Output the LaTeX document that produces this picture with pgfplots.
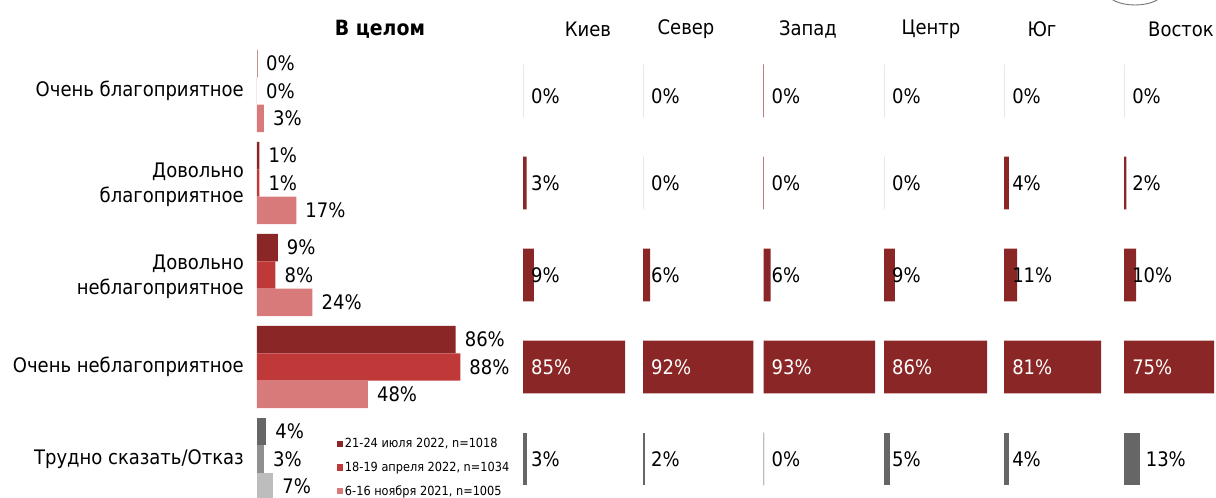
\documentclass[border=0pt]{standalone}
\usepackage{fontspec}
\setmainfont{DejaVuSansCondensed}[Extension=.ttf, BoldFont=DejaVuSansCondensed-Bold]
\usepackage{pgfplots}
\pgfplotsset{compat=1.18}
\definecolor{c1}{HTML}{8B2626}
\definecolor{c2}{HTML}{C03939}
\definecolor{c3}{HTML}{D97A7A}
\definecolor{g1}{HTML}{666666}
\definecolor{g2}{HTML}{8F8F8F}
\definecolor{g3}{HTML}{BDBDBD}
\newcommand\pct{\fontsize{20}{24}\selectfont}
\tikzset{catlab/.style={anchor=east, align=right, inner sep=0pt, xshift=-13pt, font=\fontsize{20}{25}\selectfont}}
\pgfplotsset{
  /pgf/number format/assume math mode=true,
  base/.style={scale only axis, xmin=0, xmax=100, ymin=-0.5, ymax=4.5, height=460pt,
    hide axis, clip=false, anchor=south west},
  rp/.style={base, width=120pt},
  lbl/.style={draw=none, mark=none, nodes near coords={\pgfplotspointmeta},
    point meta=explicit symbolic, nodes near coords align=horizontal,
    nodes near coords style={anchor=west, inner sep=0pt, font=\pct}},
}
% #1 x, #2 red bars, #3 gray bar, #4 black labels, #5 white labels
\newcommand{\panel}[5]{%
\begin{axis}[rp, at={(#1,-7pt)}]
\addplot[xbar, bar width=0.576, bar shift=0, fill=c1, draw=none] coordinates {#2};
\addplot[xbar, bar width=0.576, bar shift=0, fill=g1, draw=none] coordinates {#3};
\addplot[lbl] coordinates {#4};
\addplot[lbl, nodes near coords style={text=white}] coordinates {#5};
\end{axis}}
\begin{document}
\begin{tikzpicture}
\path[use as bounding box, fill=white] (0,0) rectangle (1216pt,498pt);
% partial logo outline at the top right
\draw[black!55, line width=0.9pt] (1135pt,506pt) ellipse (28pt and 13pt);
% ---- overall panel (bars at category +0.298 / 0 / -0.298) ----
\begin{axis}[base, width=231pt, at={(257pt,-7pt)},
  nodes near coords={\pgfmathprintnumber{\pgfplotspointmeta}\%}, point meta=x,
  nodes near coords align=horizontal,
  nodes near coords style={anchor=west, inner sep=0pt, xshift=9pt, font=\pct, text=black},
  legend style={at={(0.345,0.148)}, anchor=north west, draw=none, fill=none,
    font=\fontsize{12.6}{14}\selectfont, inner sep=0pt, row sep=9.5pt, legend cell align=left,
    nodes={inner sep=1.5pt}},
  legend image code/.code={\fill[#1] (0pt,-3.3pt) rectangle (6.6pt,3.3pt);},
]
\addplot[xbar, bar width=0.298, bar shift=0, fill=c1, draw=none]
  coordinates {(1,3.298) (9,2.298) (86,1.298)};
\addlegendentry{21-24 июля 2022, n=1018}
\addplot[xbar, bar width=0.298, bar shift=0, fill=c2, draw=none]
  coordinates {(0,4) (1,3) (8,2) (88,1)};
\addlegendentry{18-19 апреля 2022, n=1034}
\addplot[xbar, bar width=0.298, bar shift=0, fill=c3, draw=none]
  coordinates {(3,3.702) (17,2.702) (24,1.702) (48,0.702)};
\addlegendentry{6-16 ноября 2021, n=1005}
\addplot[xbar, bar width=0.298, bar shift=0, fill=c1, draw=c1!70, line width=0.3pt, forget plot]
  coordinates {(0,4.298)};
\addplot[xbar, bar width=0.298, bar shift=0, fill=g1, draw=none, forget plot] coordinates {(4,0.298)};
\addplot[xbar, bar width=0.298, bar shift=0, fill=g2, draw=none, forget plot] coordinates {(3,0)};
\addplot[xbar, bar width=0.298, bar shift=0, fill=g3, draw=none, forget plot] coordinates {(7,-0.298)};
\node[catlab] at (axis cs:0,4) {Очень благоприятное};
\node[catlab, yshift=-2pt] at (axis cs:0,3) {Довольно\\благоприятное};
\node[catlab, yshift=-2pt] at (axis cs:0,2) {Довольно\\неблагоприятное};
\node[catlab] at (axis cs:0,1) {Очень неблагоприятное};
\node[catlab] at (axis cs:0,0) {Трудно сказать/Отказ};
\end{axis}
% ---- regions (21-24 июля 2022) ----
\panel{523pt}{(0,4) (3,3) (9,2) (85,1)}{(3,0)}
  {(6.7,3.94) [0\%] (6.7,3) [3\%] (6.7,2) [9\%] (6.7,0) [3\%]}{(6.7,1) [85\%]}
\panel{643pt}{(0,4) (0,3) (6,2) (92,1)}{(2,0)}
  {(6.7,3.94) [0\%] (6.7,3) [0\%] (6.7,2) [6\%] (6.7,0) [2\%]}{(6.7,1) [92\%]}
\begin{axis}[rp, at={(763.5pt,-7pt)}]
\addplot[xbar, bar width=0.576, bar shift=0, fill=c1, draw=c1!60, line width=0.3pt] coordinates {(0,4) (0,3)};
\addplot[xbar, bar width=0.576, bar shift=0, fill=c1, draw=none] coordinates {(6,2) (93,1)};
\addplot[xbar, bar width=0.576, bar shift=0, fill=g1, draw=g3, line width=0.3pt] coordinates {(0,0)};
\addplot[lbl] coordinates {(6.7,3.94) [0\%] (6.7,3) [0\%] (6.7,2) [6\%] (6.7,0) [0\%]};
\addplot[lbl, nodes near coords style={text=white}] coordinates {(6.7,1) [93\%]};
\end{axis}
\panel{884pt}{(0,4) (0,3) (9,2) (86,1)}{(5,0)}
  {(6.7,3.94) [0\%] (6.7,3) [0\%] (6.7,2) [9\%] (6.7,0) [5\%]}{(6.7,1) [86\%]}
\panel{1004pt}{(0,4) (4,3) (11,2) (81,1)}{(4,0)}
  {(6.7,3.94) [0\%] (6.7,3) [4\%] (6.7,2) [11\%] (6.7,0) [4\%]}{(6.7,1) [81\%]}
\panel{1124pt}{(0,4) (2,3) (10,2) (75,1)}{(13,0)}
  {(6.7,3.94) [0\%] (6.7,3) [2\%] (6.7,2) [10\%] (18,0) [13\%]}{(6.7,1) [75\%]}
% ---- headers ----
\node[font=\bfseries\fontsize{21}{24}\selectfont] at (380pt,469pt) {В целом};
\node[font=\pct] at (588pt,469pt) {Киев};
\node[font=\pct] at (686pt,469pt) {Север};
\node[font=\pct] at (808pt,469pt) {Запад};
\node[font=\pct] at (931pt,469pt) {Центр};
\node[font=\pct] at (1042pt,469pt) {Юг};
\node[font=\pct] at (1181pt,469pt) {Восток};
\end{tikzpicture}
\end{document}
